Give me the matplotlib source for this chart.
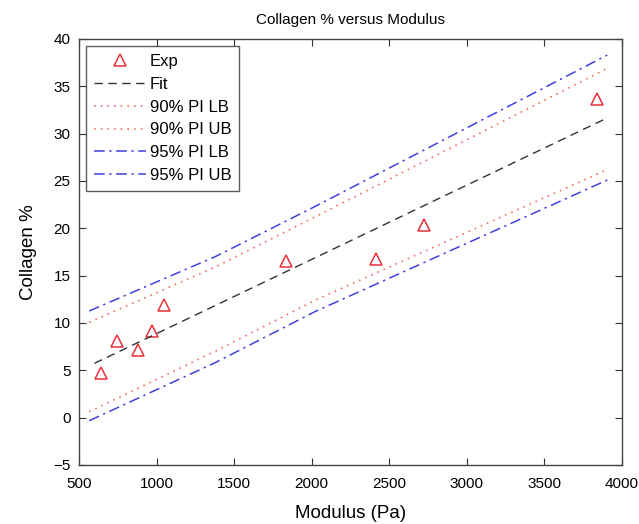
import matplotlib
matplotlib.use("Agg")
import matplotlib.pyplot as plt

plt.rcParams['font.family'] = ['Liberation Sans', 'DejaVu Sans']

# Experimental points
exp_x = [644, 743, 878, 969, 1048, 1834, 2414, 2724, 3837]
exp_y = [4.7, 8.1, 7.15, 9.15, 11.95, 16.5, 16.8, 20.3, 33.65]

# Fit line
fit_x = [600, 3910]
fit_y = [5.74, 31.7]

# Prediction interval bounds
pi_x = [566, 1377, 2021, 3905]
pi90_lb = [0.63, 7.0, 12.4, 26.2]
pi90_ub = [10.07, 15.9, 21.2, 36.9]
pi95_lb = [-0.32, 5.8, 11.2, 25.1]
pi95_ub = [11.27, 17.0, 22.3, 38.3]

fig = plt.figure(figsize=(6.39, 5.24), dpi=100)
ax = fig.add_axes([0.1236, 0.1126, 0.8498, 0.813])

ax.plot(exp_x, exp_y, linestyle='none', marker='^', markersize=9,
        markerfacecolor='none', markeredgecolor='#e8303a', markeredgewidth=1.1, label='Exp')
ax.plot(fit_x, fit_y, color='#333333', linestyle=(0, (6, 4)), linewidth=1.0, label='Fit')
ax.plot(pi_x, pi90_lb, color='#f07060', linestyle=(0, (1, 3)), linewidth=1.2, label='90% PI LB')
ax.plot(pi_x, pi90_ub, color='#f07060', linestyle=(0, (1, 3)), linewidth=1.2, label='90% PI UB')
ax.plot(pi_x, pi95_lb, color='#4040e0', linestyle=(0, (7, 3, 1.5, 3)), linewidth=1.1, label='95% PI LB')
ax.plot(pi_x, pi95_ub, color='#4040e0', linestyle=(0, (7, 3, 1.5, 3)), linewidth=1.1, label='95% PI UB')

ax.set_xlim(500, 4000)
ax.set_ylim(-5, 40)
ax.set_xticks(range(500, 4001, 500))
ax.set_yticks(range(-5, 41, 5))
ax.tick_params(direction='in', top=True, right=True, length=5, labelsize=11, width=0.8, color='#333333')
ax.tick_params(axis='x', pad=9)
ax.tick_params(axis='y', pad=6)
for s in ax.spines.values():
    s.set_color('#444444')
    s.set_linewidth(1.0)

ax.set_title('Collagen % versus Modulus', fontsize=11, pad=11)
ax.set_xlabel('Modulus (Pa)', fontsize=13.5, labelpad=10)
ax.set_ylabel('Collagen %', fontsize=13.5, labelpad=12)

leg = ax.legend(loc='upper left', fontsize=12, frameon=True, fancybox=False,
                edgecolor='#333333', handlelength=3.1, borderaxespad=0.45,
                labelspacing=0.47, handletextpad=0.25, borderpad=0.45)
leg.get_frame().set_linewidth(1.0)

fig.savefig('out.png', dpi=100)
